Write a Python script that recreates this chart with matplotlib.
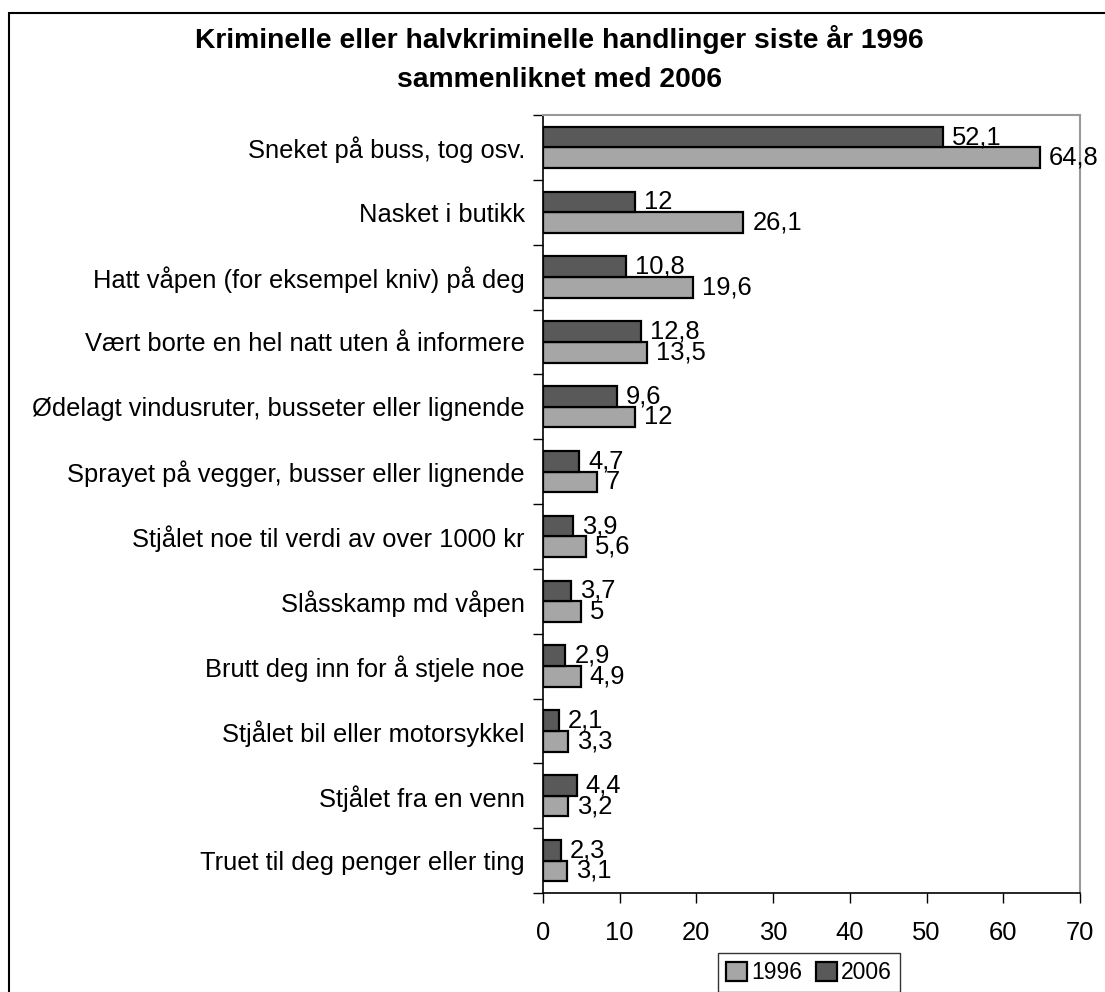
import matplotlib
matplotlib.use("Agg")
import matplotlib.pyplot as plt
import numpy as np
from matplotlib.patches import Rectangle

plt.rcParams["font.family"] = ["Liberation Sans", "DejaVu Sans"]

categories = [
    "Sneket på buss, tog osv.",
    "Nasket i butikk",
    "Hatt våpen (for eksempel kniv) på deg",
    "Vært borte en hel natt uten å informere",
    "Ødelagt vindusruter, busseter eller lignende",
    "Sprayet på vegger, busser eller lignende",
    "Stjålet noe til verdi av over 1000 kr",
    "Slåsskamp md våpen",
    "Brutt deg inn for å stjele noe",
    "Stjålet bil eller motorsykkel",
    "Stjålet fra en venn",
    "Truet til deg penger eller ting",
]
values_1996 = [64.8, 26.1, 19.6, 13.5, 12, 7, 5.6, 5, 4.9, 3.3, 3.2, 3.1]
values_2006 = [52.1, 12, 10.8, 12.8, 9.6, 4.7, 3.9, 3.7, 2.9, 2.1, 4.4, 2.3]
x_ticks = [0, 10, 20, 30, 40, 50, 60, 70]

fs = 18.4

fig = plt.figure(figsize=(11.05, 9.92), dpi=100)
ax = fig.add_axes([543 / 1105, 1 - 893 / 992, 537 / 1105, 778 / 992])

n = len(categories)
y = np.arange(n)
h = 0.32
c96 = "#a6a6a6"
c06 = "#595959"

b96 = ax.barh(y + h / 2, values_1996, height=h, color=c96, edgecolor="black", linewidth=1.6, label="1996")
b06 = ax.barh(y - h / 2, values_2006, height=h, color=c06, edgecolor="black", linewidth=1.6, label="2006")

def fmt(v):
    return ("%g" % v).replace(".", ",")

for bars, vals in [(b96, values_1996), (b06, values_2006)]:
    for bar, v in zip(bars, vals):
        ax.annotate(fmt(v), (v, bar.get_y() + bar.get_height() / 2),
                    xytext=(6.5, 0), textcoords="offset points",
                    va="center", ha="left", fontsize=fs)

ax.set_ylim(n - 0.5, -0.5)
ax.set_xlim(0, 70)
ax.set_xticks(x_ticks)
ax.set_xticklabels([str(t) for t in x_ticks], fontsize=fs)
ax.tick_params(axis="x", direction="out", length=7, width=1, pad=13)

ax.set_yticks(y)
ax.set_yticklabels(categories, fontsize=fs)
ax.set_yticks(np.arange(n + 1) - 0.5, minor=True)
ax.tick_params(axis="y", which="major", length=0, pad=13)
ax.tick_params(axis="y", which="minor", direction="out", length=7, width=1)

ax.spines["top"].set_color("#999999")
ax.spines["right"].set_color("#999999")
ax.spines["top"].set_linewidth(1.5)
ax.spines["right"].set_linewidth(1.5)
ax.spines["left"].set_linewidth(1.2)
ax.spines["bottom"].set_linewidth(1.2)

fig.text(0.506, 1 - 48 / 992, "Kriminelle eller halvkriminelle handlinger siste år 1996",
         ha="center", va="baseline", fontsize=20.3, fontweight="bold")
fig.text(0.506, 1 - 87 / 992, "sammenliknet med 2006",
         ha="center", va="baseline", fontsize=20.3, fontweight="bold")

leg = fig.legend(handles=[b96, b06], labels=["1996", "2006"], loc="upper center",
                 bbox_to_anchor=(809 / 1105, 1 - 953 / 992), ncol=2, fontsize=16.5,
                 frameon=True, fancybox=False, edgecolor="black",
                 handlelength=0.9, handleheight=0.9, handletextpad=0.2,
                 columnspacing=0.6, borderpad=0.35, borderaxespad=0)
leg.get_frame().set_linewidth(1.0)

fig.patches.append(Rectangle((9 / 1105, -0.05), 1.1, 1 - 13 / 992 + 0.05,
                             transform=fig.transFigure, fill=False,
                             edgecolor="black", linewidth=1.5))

fig.savefig("out.png", dpi=100)
